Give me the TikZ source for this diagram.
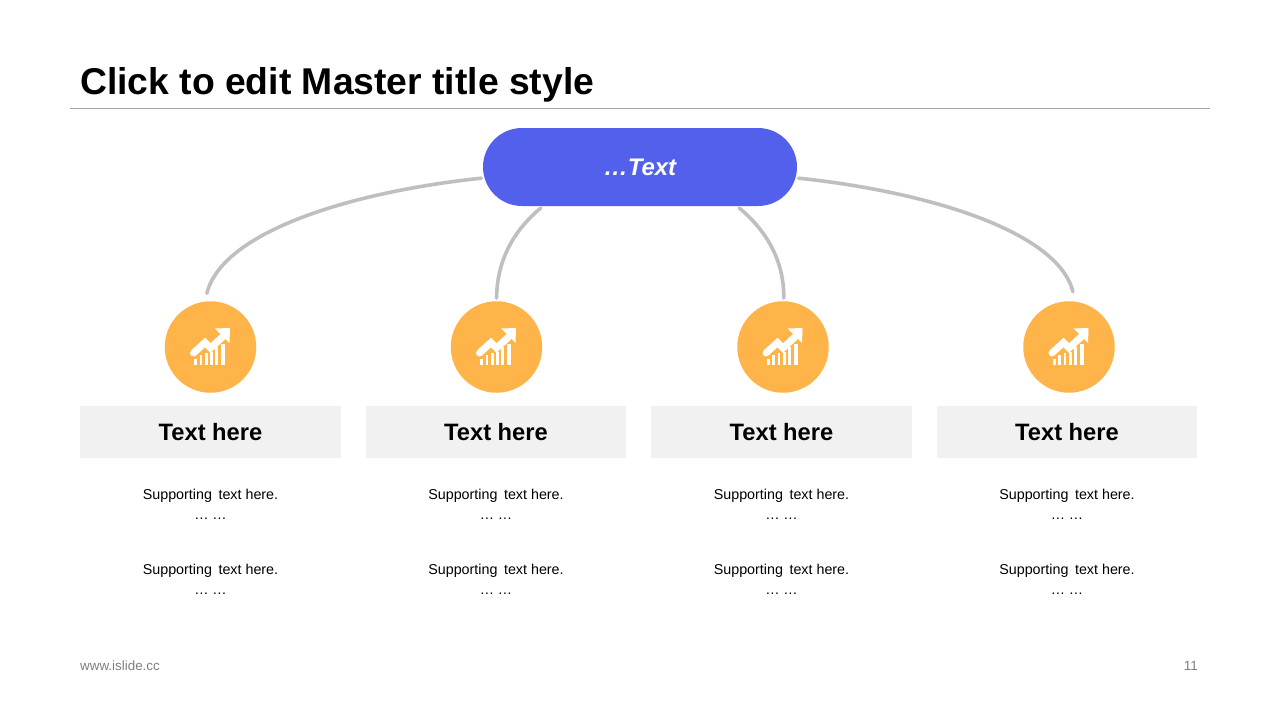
\documentclass[tikz,border=0pt]{standalone}
\usepackage{fontspec}
\setmainfont{Liberation Sans}
\usetikzlibrary{shapes.misc}
\definecolor{rootblue}{HTML}{5360EC}
\definecolor{orangec}{HTML}{FFB449}
\definecolor{linegray}{HTML}{BFBFBF}
\definecolor{boxgray}{HTML}{F1F1F1}
\definecolor{footgray}{HTML}{7F7F7F}
\tikzset{
  x=1pt,y=-1pt,
  rootnode/.style={rounded rectangle,fill=rootblue,text=white,minimum width=314pt,minimum height=78pt,inner sep=0pt,font=\fontsize{24}{28}\selectfont\bfseries\itshape},
  circnode/.style={circle,fill=orangec,minimum size=91.5pt,inner sep=0pt},
  headbox/.style={rectangle,fill=boxgray,minimum width=260.5pt,minimum height=52pt,inner sep=0pt,font=\fontsize{23.7}{28}\selectfont\bfseries},
  support/.style={align=center,inner sep=0pt,font=\fontsize{14.3}{20}\selectfont},
  link/.style={draw=linegray,line width=3.6pt,line cap=round},
  plain/.style={inner sep=0pt,anchor=west}
}
\newcommand{\suptext}{Supporting\hspace{0.18em} text here.\\[-0.5pt]…\hspace{0.25em}…}
\newcommand{\trendicon}[1]{%
  \begin{scope}[shift={(#1)}]
    \draw[white,line width=7pt,line cap=round,line join=miter] (-17,6) -- (-5.5,-4.5) -- (0,1) -- (12,-10);
    \fill[white] (4.5,-18.5) -- (19.5,-19) -- (19,-4) -- cycle;
    \fill[white] (-16.5,12) rectangle (-13.5,17.5);
    \fill[white] (-11,7.5) rectangle (-8.5,17.5);
    \fill[white] (-5.5,6) rectangle (-3,17.5);
    \fill[white] (-0.5,5) rectangle (2.5,17.5);
    \fill[white] (4.5,0) rectangle (7.5,17.5);
    \fill[white] (10.5,-3) rectangle (14.5,17.5);
  \end{scope}}
\begin{document}
\begin{tikzpicture}
\useasboundingbox[fill=white] (0,0) rectangle (1280,720);
\node[plain,font=\fontsize{37.3}{40}\selectfont\bfseries] (title) at (80,85) {Click to edit Master title style};
\coordinate (ruleL) at (70,108.5);
\coordinate (ruleR) at (1210,108.5);
\draw[draw=black!35,line width=1pt] (ruleL) -- (ruleR);

\node[rootnode] (root) at (640,167) {…Text};

\node[circnode] (c1) at (210.5,347) {};
\node[circnode] (c2) at (496.5,347) {};
\node[circnode] (c3) at (783,347) {};
\node[circnode] (c4) at (1069,347) {};
\trendicon{c1}\trendicon{c2}\trendicon{c3}\trendicon{c4}

\path[link,shorten <=3pt,shorten >=8.3pt] (root.184.4) .. controls (350,192) and (222,232) .. (c1.97);
\path[link,shorten <=3pt,shorten >=3pt] (root.202) .. controls (512,232) and (497,262) .. (c2.north);
\path[link,shorten <=3pt,shorten >=3pt] (root.-22) .. controls (768,232) and (784,262) .. (c3.89);
\path[link,shorten <=3pt,shorten >=10pt] (root.-4.4) .. controls (930,192) and (1058,232) .. (c4.82.6);

\node[headbox] (h1) at (210.5,432) {Text here};
\node[headbox] (h2) at (496,432) {Text here};
\node[headbox] (h3) at (781.5,432) {Text here};
\node[headbox] (h4) at (1067,432) {Text here};

\foreach \n/\x in {a/210.5,b/496,c/781.5,d/1067}{
  \node[support] (s1\n) at (\x,504.5) {\suptext};
  \node[support] (s2\n) at (\x,579.5) {\suptext};
}
\node[plain,text=footgray,font=\fontsize{13.4}{16}\selectfont] (foot) at (80,666) {www.islide.cc};
\node[inner sep=0pt,anchor=east,text=footgray,font=\fontsize{13.4}{16}\selectfont] (page) at (1198,666) {11};
\end{tikzpicture}
\end{document}
